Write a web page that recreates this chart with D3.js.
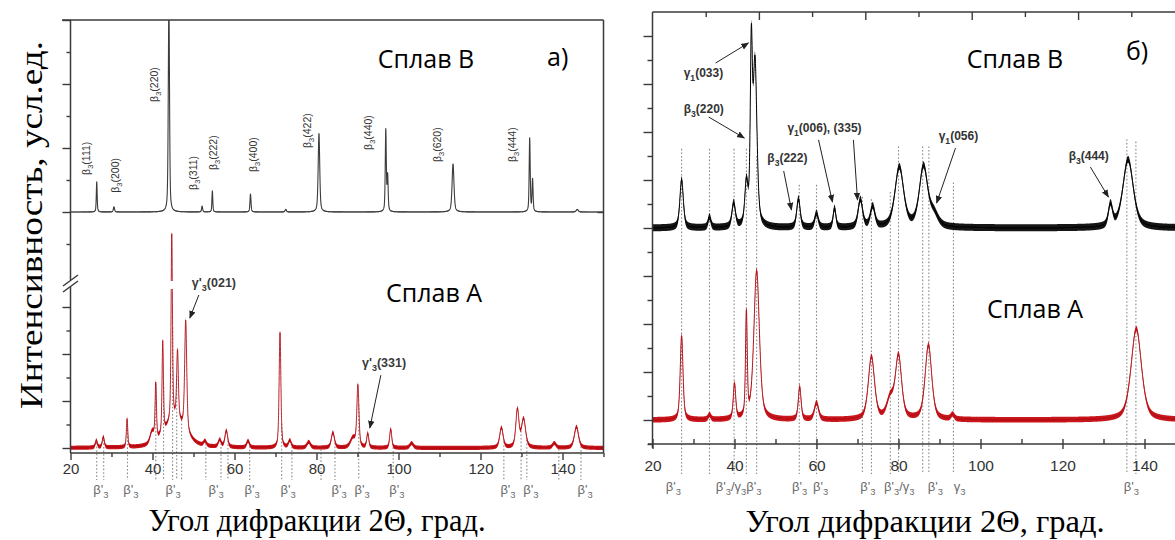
<!DOCTYPE html>
<html><head><meta charset="utf-8">
<script src="https://cdn.jsdelivr.net/npm/d3@7"></script>
<style>body{margin:0;background:#fff}svg{display:block}</style>
</head><body>
<svg id="chart" width="1175" height="540"></svg>
<script>
// ================= DATA =================
const angleDomain = [20, 150];
const xTickLabels = [20, 40, 60, 80, 100, 120, 140];
const xMinorTicks = [30, 50, 70, 90, 110, 130, 150];

// ---- Panel a) : alloy B (black, upper trace) — peak 2θ, intensity (a.u.), FWHM (deg)
const aB_pos  = [26.4, 30.6, 44.0, 52.1, 54.6, 63.9, 72.5, 80.6, 96.9, 97.35, 113.3, 132.0, 132.7, 143.6];
const aB_int  = [0.94, 0.16, 6.6, 0.18, 0.66, 0.56, 0.08, 2.45, 2.55, 1.10, 1.50, 2.30, 1.00, 0.08];
const aB_fwhm = [0.25, 0.35, 0.35, 0.30, 0.25, 0.30, 0.40, 0.45, 0.30, 0.30, 0.55, 0.30, 0.30, 0.60];
const aB_labels     = ["β_3(111)", "β_3(200)", "β_3(220)", "β_3(311)", "β_3(222)", "β_3(400)", "β_3(422)", "β_3(440)", "β_3(620)", "β_3(444)"];
const aB_labelAngle = [23.8, 30.8, 40.3, 49.8, 54.7, 64.5, 77.7, 92.5, 109.4, 127.6];
const aB_labelLevel = [1.16, 0.60, 3.44, 0.69, 1.31, 1.25, 2.00, 1.94, 1.56, 1.56];

// ---- Panel a) : alloy A (red, lower trace)
const aA_pos  = [26.3, 28.0, 33.8, 39.9, 40.8, 42.5, 44.7, 45.5, 46.1, 48.1, 52.8, 56.4, 58.0, 63.3, 71.1, 73.5, 78.1, 84.0, 88.9, 90.1, 92.5, 98.1, 103.2, 125.1, 129.0, 130.5, 138.0, 143.4];
const aA_int  = [0.30, 0.45, 1.20, 0.50, 2.35, 3.90, 7.90, 1.20, 2.90, 4.70, 0.20, 0.30, 0.70, 0.28, 4.90, 0.30, 0.25, 0.65, 0.40, 2.60, 0.60, 0.80, 0.20, 0.85, 1.60, 1.20, 0.20, 0.90];
const aA_fwhm = [0.60, 0.60, 0.40, 1.20, 0.40, 0.40, 0.40, 6.00, 0.50, 0.60, 0.80, 0.80, 0.80, 0.80, 0.50, 0.80, 1.00, 0.90, 1.50, 0.60, 0.60, 0.60, 1.00, 1.00, 0.90, 1.20, 1.00, 1.20];
const aA_markers     = [26.4, 28.1, 33.9, 40.8, 42.7, 44.9, 45.9, 47.1, 53.0, 56.7, 58.4, 63.7, 71.5, 74.0, 81.1, 84.5, 90.3, 98.7, 125.7, 129.9, 131.3, 139.1, 144.5];
const aA_phaseAngles = [27.4, 34.7, 45.0, 55.5, 64.3, 73.1, 85.5, 91.1, 99.6, 126.7, 132.3, 145.5];
const aA_notes      = ["γ'_3(021)", "γ'_3(331)"];
const aA_noteAngle  = [49.6, 91.1];
const aA_noteLevel  = [6.85, 3.45];
const aA_arrowFrom  = [[51.3, 6.51], [95.7, 3.10]];
const aA_arrowTo    = [[49.1, 5.53], [93.0, 0.85]];

// ---- Panel б) : y levels in tick units (alloy A baseline 1, alloy B baseline 9)
const bA_base = 1, bB_base = 9;
const bB_pos  = [27.1, 33.9, 39.8, 42.9, 44.1, 45.0, 55.6, 60.0, 64.4, 70.7, 73.7, 80.2, 86.1, 88.6, 131.7, 136.0];
const bB_int  = [2.00, 0.45, 1.00, 1.70, 6.90, 6.80, 1.20, 0.60, 0.80, 1.15, 0.85, 2.50, 2.50, 0.50, 0.90, 2.85];
const bB_fwhm = [1.00, 0.80, 1.00, 0.90, 0.60, 1.10, 1.00, 1.00, 0.80, 1.30, 1.30, 2.50, 2.40, 2.50, 1.20, 3.00];
const bA_pos  = [27.1, 33.9, 40.0, 42.9, 45.4, 55.9, 60.0, 73.4, 78.0, 80.0, 87.3, 93.2, 138.0];
const bA_int  = [3.50, 0.20, 1.45, 4.30, 6.20, 1.35, 0.70, 2.60, 0.80, 2.60, 3.10, 0.20, 3.80];
const bA_fwhm = [0.80, 0.80, 0.70, 0.50, 1.60, 0.80, 1.20, 1.80, 2.00, 1.80, 1.90, 1.00, 3.00];
const b_markers   = [27.1, 33.9, 39.9, 42.9, 45.4, 55.8, 60.0, 71.2, 73.4, 78.0, 80.0, 85.9, 87.4, 93.4, 135.7, 137.9];
const b_markerTop = [12.3, 12.3, 12.3, 12.3, 12.0, 10.8, 10.8, 10.3, 10.2, 10.5, 12.4, 12.4, 12.4, 10.9, 12.7, 12.6];
const b_phaseLabels = ["β'_3", "β'_3/γ_3β'_3", "β'_3", "β'_3", "β'_3", "β'_3/γ_3", "β'_3", "γ_3", "β'_3"];
const b_phaseAngles = [25.1, 41.0, 55.9, 61.0, 72.5, 80.2, 89.0, 94.9, 136.8];
const b_notes     = ["γ_1(033)", "β_3(220)", "β_3(222)", "γ_1(006), (335)", "γ_1(056)", "β_3(444)"];
const b_noteAngle = [27.6, 27.6, 48.0, 52.9, 89.8, 121.5];
const b_noteLevel = [15.29, 13.79, 11.75, 13.0, 12.67, 11.83];
const b_arrowFrom = [[35.4, 15.875], [33.7, 13.625], [52.0, 11.375], [60.5, 12.67], [69.0, 12.67], [93.9, 12.33], [126.8, 11.54]];
const b_arrowTo   = [[43.4, 16.71], [42.4, 12.75], [53.9, 9.75], [63.9, 10.08], [70.0, 10.17], [89.3, 10.04], [131.2, 10.29]];
const bTopTicks = [1, 2, 3, 4, 5, 6, 7, 8, 9, 10];

// ================= DRAWING =================
const svg = d3.select("#chart");
const SANS = "'Liberation Sans', Arial, sans-serif";
const SERIF = "'Liberation Serif', 'Times New Roman', serif";
const CAL = "'Open Sans', 'Noto Sans', sans-serif";
const AX = "#3a3a3a";
const RED = "#c8161d";

const xA = d3.scaleLinear().domain(angleDomain).range([70.5, 603.5]);
const yAtop = d3.scaleLinear().domain([0, 6]).range([212, 20]);
const yAbot = d3.scaleLinear().domain([0, 8]).range([448, 260]);
const axisYA = 453;
const xB = d3.scaleLinear().domain(angleDomain).range([652.5, 1185.5]);
const yB = d3.scaleLinear().domain([0, 17]).range([444, 36]);
const xBtop = d3.scaleLinear().domain([0, 10]).range([652.5, 1184.5]);

const grid = d3.range(angleDomain[0], angleDomain[1] + 1e-9, 0.02);
function pv(pos, amp, fw, t) {
  let s = 0;
  for (let i = 0; i < pos.length; i++) {
    const d = (t - pos[i]) / fw[i], d2 = d * d;
    s += amp[i] * (0.5 / (1 + 4 * d2) + 0.5 * Math.exp(-2.7726 * d2));
  }
  return s;
}

const defs = svg.append("defs");
defs.append("marker").attr("id", "ah").attr("viewBox", "0 0 10 10").attr("refX", 9).attr("refY", 5)
  .attr("markerWidth", 8).attr("markerHeight", 8).attr("markerUnits", "userSpaceOnUse").attr("orient", "auto")
  .append("path").attr("d", "M0,1 L10,5 L0,9 Z").attr("fill", "#222");
defs.append("clipPath").attr("id", "clipA").append("rect")
  .attr("x", xA.range()[0]).attr("y", 20).attr("width", xA.range()[1] - xA.range()[0]).attr("height", axisYA - 20);
const cb = defs.append("clipPath").attr("id", "clipAred");
cb.append("rect").attr("x", xA.range()[0]).attr("y", 20).attr("width", xA.range()[1] - xA.range()[0]).attr("height", 261);
cb.append("rect").attr("x", xA.range()[0]).attr("y", 289).attr("width", xA.range()[1] - xA.range()[0]).attr("height", axisYA - 289);
defs.append("clipPath").attr("id", "clipB").append("rect")
  .attr("x", 652.5).attr("y", 12).attr("width", 1175 - 652.5).attr("height", 444 - 12);

function rich(t, str, subScale = 0.72, shift = 0.32) {
  const fs = parseFloat(t.attr("font-size"));
  const re = /_(.)/g; let last = 0, m; const pieces = [];
  while ((m = re.exec(str))) {
    if (m.index > last) pieces.push({ s: str.slice(last, m.index), sub: false });
    pieces.push({ s: m[1], sub: true }); last = re.lastIndex;
  }
  if (last < str.length) pieces.push({ s: str.slice(last), sub: false });
  let cur = 0;
  pieces.forEach(p => {
    const target = p.sub ? fs * shift : 0;
    const ts = t.append("tspan").attr("dy", target - cur).text(p.s);
    if (p.sub) ts.attr("font-size", fs * subScale);
    cur = target;
  });
  return t;
}

function trace(g, x, y, base, pos, amp, fw, fill, half, core, coreW) {
  const data = grid.map(t => ({ t, v: base + pv(pos, amp, fw, t) }));
  g.append("path").datum(data)
    .attr("d", d3.area().x(d => x(d.t)).y0(d => y(d.v) + half).y1(d => y(d.v) - half))
    .attr("fill", fill);
  g.append("path").datum(data)
    .attr("d", d3.line().x(d => x(d.t)).y(d => y(d.v)))
    .attr("fill", "none").attr("stroke", core).attr("stroke-width", coreW).attr("stroke-linejoin", "round");
}

function styleAxis(g, fs) {
  g.select(".domain").remove();
  g.selectAll(".tick line").attr("stroke", AX).attr("stroke-width", 1.4);
  g.selectAll(".tick text").attr("font-family", SANS).attr("font-size", fs).attr("fill", "#333");
}

// ---------------- Panel a) ----------------
const gA = svg.append("g");
gA.append("g").selectAll("line").data(aA_markers).enter().append("line")
  .attr("x1", d => xA(d)).attr("x2", d => xA(d))
  .attr("y1", d => yAbot(pv(aA_pos, aA_int, aA_fwhm, d)) + 2).attr("y2", 480)
  .attr("stroke", "#8a8a8a").attr("stroke-width", 1.1).attr("stroke-dasharray", "1.6,2");

trace(gA.append("g").attr("clip-path", "url(#clipA)"), xA, yAtop, 0, aB_pos, aB_int, aB_fwhm, "#666", 0.6, "#3c3c3c", 1.1);
trace(gA.append("g").attr("clip-path", "url(#clipAred)"), xA, yAbot, 0, aA_pos, aA_int, aA_fwhm, RED, 2.1, "#b0121a", 0.9);

const fr = gA.append("g").attr("stroke", AX).attr("stroke-width", 1.5).attr("fill", "none");
fr.append("line").attr("x1", 62).attr("x2", xA.range()[1]).attr("y1", 20).attr("y2", 20);
fr.append("line").attr("x1", xA.range()[1]).attr("x2", xA.range()[1]).attr("y1", 20).attr("y2", axisYA);
fr.append("line").attr("x1", xA.range()[0]).attr("x2", xA.range()[1]).attr("y1", axisYA).attr("y2", axisYA);
fr.append("line").attr("x1", xA.range()[0]).attr("x2", xA.range()[0]).attr("y1", 20).attr("y2", 280);
fr.append("line").attr("x1", xA.range()[0]).attr("x2", xA.range()[0]).attr("y1", 287).attr("y2", axisYA);
fr.append("line").attr("x1", 63).attr("x2", 78).attr("y1", 286).attr("y2", 275);
fr.append("line").attr("x1", 63).attr("x2", 78).attr("y1", 292).attr("y2", 281);

const gxA = gA.append("g").attr("transform", `translate(0,${axisYA})`)
  .call(d3.axisBottom(xA).tickValues(xTickLabels).tickSize(7).tickSizeOuter(0).tickPadding(3).tickFormat(d3.format("d")));
styleAxis(gxA, 15);
const gxAm = gA.append("g").attr("transform", `translate(0,${axisYA})`)
  .call(d3.axisBottom(xA).tickValues(xMinorTicks).tickSize(4).tickSizeOuter(0).tickFormat(""));
styleAxis(gxAm, 15);
[[yAtop, [-1, 0, 1, 2, 3, 4, 5, 6]], [yAbot, [0, 1, 2, 3, 4, 5, 6]]].forEach(([ys, vals]) => {
  const g1 = gA.append("g").attr("transform", `translate(${xA.range()[0]},0)`)
    .call(d3.axisLeft(ys).tickValues(vals.filter(v => v % 2 === 0)).tickSize(8).tickSizeOuter(0).tickFormat(""));
  styleAxis(g1, 12);
  const g2 = gA.append("g").attr("transform", `translate(${xA.range()[0]},0)`)
    .call(d3.axisLeft(ys).tickValues(vals.filter(v => v % 2 !== 0)).tickSize(4).tickSizeOuter(0).tickFormat(""));
  styleAxis(g2, 12);
});
const gRt = gA.append("g").attr("transform", `translate(${xA.range()[1]},0)`)
  .call(d3.axisRight(yAtop).tickValues([0]).tickSize(-6).tickSizeOuter(0).tickFormat(""));
styleAxis(gRt, 12);

aB_labels.forEach((s, i) => {
  const t = gA.append("text").attr("font-family", SANS).attr("font-size", 10.5).attr("fill", "#333")
    .attr("transform", `translate(${xA(aB_labelAngle[i]) + 4},${yAtop(aB_labelLevel[i])}) rotate(-90)`);
  rich(t, s);
});
aA_phaseAngles.forEach(a => {
  const t = gA.append("text").attr("font-family", SANS).attr("font-size", 13).attr("fill", "#6a6a6a")
    .attr("text-anchor", "middle").attr("x", xA(a)).attr("y", 494);
  rich(t, "β'_3");
});
aA_notes.forEach((s, i) => {
  const t = gA.append("text").attr("font-family", SANS).attr("font-size", 12.5).attr("font-weight", "bold").attr("fill", "#3a3a3a")
    .attr("x", xA(aA_noteAngle[i])).attr("y", yAbot(aA_noteLevel[i]));
  rich(t, s);
});
aA_arrowFrom.forEach((f, i) => {
  gA.append("line").attr("x1", xA(f[0])).attr("y1", yAbot(f[1])).attr("x2", xA(aA_arrowTo[i][0])).attr("y2", yAbot(aA_arrowTo[i][1]))
    .attr("stroke", "#222").attr("stroke-width", 1).attr("marker-end", "url(#ah)");
});
gA.append("text").attr("font-family", CAL).attr("font-size", 25).attr("fill", "#000").attr("text-anchor", "middle")
  .attr("x", 426).attr("y", 68).text("Сплав В");
gA.append("text").attr("font-family", CAL).attr("font-size", 25).attr("fill", "#000").attr("text-anchor", "middle")
  .attr("x", 434).attr("y", 302).text("Сплав А");
gA.append("text").attr("font-family", CAL).attr("font-size", 25).attr("fill", "#000")
  .attr("x", 547).attr("y", 66).text("а)");
gA.append("text").attr("font-family", SERIF).attr("font-size", 32).attr("fill", "#000").attr("text-anchor", "middle")
  .attr("textLength", 368).attr("lengthAdjust", "spacingAndGlyphs")
  .attr("transform", "translate(42,225) rotate(-90)").text("Интенсивность, усл.ед.");
gA.append("text").attr("font-family", SERIF).attr("font-size", 30.5).attr("fill", "#000").attr("text-anchor", "middle")
  .attr("x", 317).attr("y", 531).text("Угол дифракции 2Θ, град.");

// ---------------- Panel б) ----------------
const gB = svg.append("g");
gB.append("g").selectAll("line").data(b_markers).enter().append("line")
  .attr("x1", d => xB(d)).attr("x2", d => xB(d))
  .attr("y1", (d, i) => yB(b_markerTop[i])).attr("y2", 474)
  .attr("stroke", "#8a8a8a").attr("stroke-width", 1.1).attr("stroke-dasharray", "1.6,2");
trace(gB.append("g").attr("clip-path", "url(#clipB)"), xB, yB, bB_base, bB_pos, bB_int, bB_fwhm, "#151515", 3.5, "#000", 1);
trace(gB.append("g").attr("clip-path", "url(#clipB)"), xB, yB, bA_base, bA_pos, bA_int, bA_fwhm, RED, 2.8, "#b0121a", 1);

const frB = gB.append("g").attr("stroke", AX).attr("stroke-width", 1.5);
frB.append("line").attr("x1", 652.5).attr("x2", 1175).attr("y1", 12).attr("y2", 12);
frB.append("line").attr("x1", 652.5).attr("x2", 652.5).attr("y1", 12).attr("y2", 448);
frB.append("line").attr("x1", 648).attr("x2", 1175).attr("y1", 444).attr("y2", 444);

const gxB = gB.append("g").attr("transform", "translate(0,444)")
  .call(d3.axisBottom(xB).tickValues(xTickLabels).tickSize(5).tickSizeOuter(0).tickPadding(11).tickFormat(d3.format("d")));
styleAxis(gxB, 15.5);
const gxB2 = gB.append("g").attr("transform", "translate(0,444)")
  .call(d3.axisTop(xB).tickValues(xTickLabels.concat(xMinorTicks)).tickSize(5).tickSizeOuter(0).tickFormat(""));
styleAxis(gxB2, 12);
const yVals = d3.range(0, 18);
const gyB1 = gB.append("g").attr("transform", "translate(652.5,0)")
  .call(d3.axisLeft(yB).tickValues(yVals.filter(v => v % 2 === 1)).tickSize(9).tickSizeOuter(0).tickFormat(""));
styleAxis(gyB1, 12);
const gyB2 = gB.append("g").attr("transform", "translate(652.5,0)")
  .call(d3.axisLeft(yB).tickValues(yVals.filter(v => v % 2 === 0)).tickSize(5).tickSizeOuter(0).tickFormat(""));
styleAxis(gyB2, 12);
const gtB1 = gB.append("g").attr("transform", "translate(0,12)")
  .call(d3.axisBottom(xBtop).tickValues(bTopTicks.filter(v => v % 2 === 0)).tickSize(8).tickSizeOuter(0).tickFormat(""));
styleAxis(gtB1, 12);
const gtB2 = gB.append("g").attr("transform", "translate(0,12)")
  .call(d3.axisBottom(xBtop).tickValues(bTopTicks.filter(v => v % 2 === 1)).tickSize(5).tickSizeOuter(0).tickFormat(""));
styleAxis(gtB2, 12);

b_phaseLabels.forEach((s, i) => {
  const t = gB.append("text").attr("font-family", SANS).attr("font-size", 13).attr("fill", "#6a6a6a")
    .attr("text-anchor", "middle").attr("x", xB(b_phaseAngles[i])).attr("y", 491);
  rich(t, s);
});
b_notes.forEach((s, i) => {
  const t = gB.append("text").attr("font-family", SANS).attr("font-size", 12).attr("font-weight", "bold").attr("fill", "#333")
    .attr("x", xB(b_noteAngle[i])).attr("y", yB(b_noteLevel[i]));
  rich(t, s);
});
b_arrowFrom.forEach((f, i) => {
  gB.append("line").attr("x1", xB(f[0])).attr("y1", yB(f[1])).attr("x2", xB(b_arrowTo[i][0])).attr("y2", yB(b_arrowTo[i][1]))
    .attr("stroke", "#222").attr("stroke-width", 1).attr("marker-end", "url(#ah)");
});
gB.append("text").attr("font-family", CAL).attr("font-size", 25).attr("fill", "#000").attr("text-anchor", "middle")
  .attr("x", 1015).attr("y", 68).text("Сплав В");
gB.append("text").attr("font-family", CAL).attr("font-size", 25).attr("fill", "#000").attr("text-anchor", "middle")
  .attr("x", 1035).attr("y", 318).text("Сплав А");
gB.append("text").attr("font-family", CAL).attr("font-size", 25).attr("fill", "#000")
  .attr("x", 1126).attr("y", 60).text("б)");
gB.append("text").attr("font-family", SERIF).attr("font-size", 32.5).attr("fill", "#000").attr("text-anchor", "middle")
  .attr("x", 925).attr("y", 532).text("Угол дифракции 2Θ, град.");
</script>
</body></html>
